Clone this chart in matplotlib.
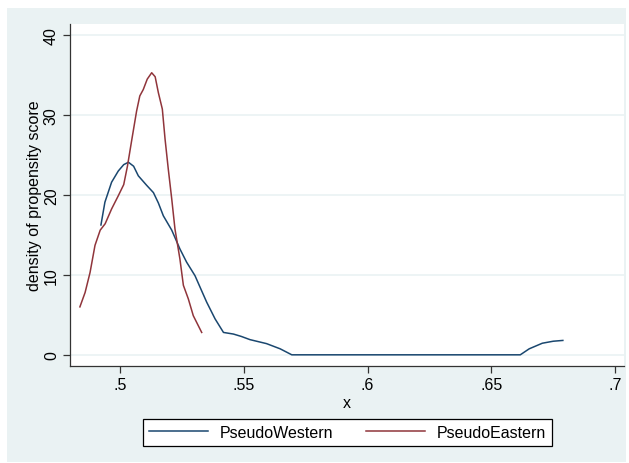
import numpy as np
import matplotlib.pyplot as plt
from matplotlib.patches import Rectangle

# kernel density estimates
west_x = [0.4923, 0.4939, 0.4966, 0.4993, 0.5015, 0.5034, 0.5055, 0.5074, 0.5108, 0.5135,
          0.5155, 0.5175, 0.5209, 0.5242, 0.5269, 0.5303, 0.5330, 0.5350, 0.5384, 0.5418,
          0.5458, 0.5490, 0.5525, 0.5592, 0.5647, 0.5694, 0.6000, 0.6300, 0.6617, 0.6653,
          0.6706, 0.6750, 0.6789]
west_y = [16.25, 19.1, 21.6, 23.0, 23.8, 24.1, 23.6, 22.4, 21.2, 20.3,
          19.0, 17.4, 15.6, 13.25, 11.6, 9.9, 8.0, 6.6, 4.5, 2.8,
          2.6, 2.3, 1.9, 1.4, 0.75, 0.0, 0.0, 0.0, 0.0, 0.75,
          1.45, 1.7, 1.8]

east_x = [0.4838, 0.4859, 0.4879, 0.4899, 0.4920, 0.4940, 0.4966, 0.4993, 0.5015, 0.5030,
          0.5047, 0.5067, 0.5080, 0.5094, 0.5110, 0.5128, 0.5142, 0.5155, 0.5171, 0.5182,
          0.5195, 0.5209, 0.5222, 0.5242, 0.5256, 0.5276, 0.5296, 0.5330]
east_y = [6.0, 7.8, 10.3, 13.7, 15.6, 16.4, 18.25, 19.9, 21.3, 23.6,
          26.8, 30.5, 32.4, 33.2, 34.5, 35.3, 34.8, 32.8, 30.75, 27.0,
          23.25, 19.5, 15.75, 12.0, 8.7, 7.0, 4.9, 2.8]

xticks = [0.5, 0.55, 0.6, 0.65, 0.7]
xticklabels = ['.5', '.55', '.6', '.65', '.7']
yticks = [0, 10, 20, 30, 40]

navy = '#1A476F'
maroon = '#90353B'
light = '#EAF2F3'
fs = 11.5

plt.rcParams['font.family'] = ['Liberation Sans', 'DejaVu Sans']

fig = plt.figure(figsize=(6.29, 4.64), dpi=100)
fig.patch.set_facecolor('white')
fig.patches.append(Rectangle((7 / 629, 1 / 464), 619 / 629, 454 / 464,
                             transform=fig.transFigure, facecolor=light,
                             edgecolor='none', zorder=-10))

ax = fig.add_axes([70 / 629, 1 - 367 / 464, 554 / 629, 342 / 464])
ax.set_facecolor('white')

ax.plot(west_x, west_y, color=navy, lw=1.1, solid_joinstyle='round', label='PseudoWestern')
ax.plot(east_x, east_y, color=maroon, lw=1.1, solid_joinstyle='round', label='PseudoEastern')

ax.set_xlim(0.4798, 0.7036)
ax.set_ylim(-1.4, 41.4)
ax.set_xticks(xticks)
ax.set_xticklabels(xticklabels)
ax.set_yticks(yticks)
ax.set_yticklabels([str(v) for v in yticks], rotation=90, va='center')

ax.grid(axis='y', color=light, lw=1.2)
ax.set_axisbelow(True)
for s in ['top', 'right']:
    ax.spines[s].set_visible(False)
for s in ['left', 'bottom']:
    ax.spines[s].set_color('#333333')
    ax.spines[s].set_linewidth(0.9)
ax.tick_params(direction='out', length=5, width=0.9, color='#333333',
               labelsize=fs, pad=3)

ax.set_xlabel('x', fontsize=fs, labelpad=2)
ax.set_ylabel('density of propensity score', fontsize=fs, labelpad=1)

leg = fig.legend(loc='center', ncol=2, mode='expand',
                 bbox_to_anchor=(143 / 629, 1 - 448 / 464, 409 / 629, 29 / 464),
                 fontsize=fs, handlelength=3.7, handletextpad=0.7,
                 frameon=True, fancybox=False, borderaxespad=0, columnspacing=1.5)
leg.get_frame().set_edgecolor('black')
leg.get_frame().set_linewidth(0.9)
leg.get_frame().set_facecolor('white')
leg.get_frame().set_alpha(1)

fig.savefig('out.png', dpi=100)
